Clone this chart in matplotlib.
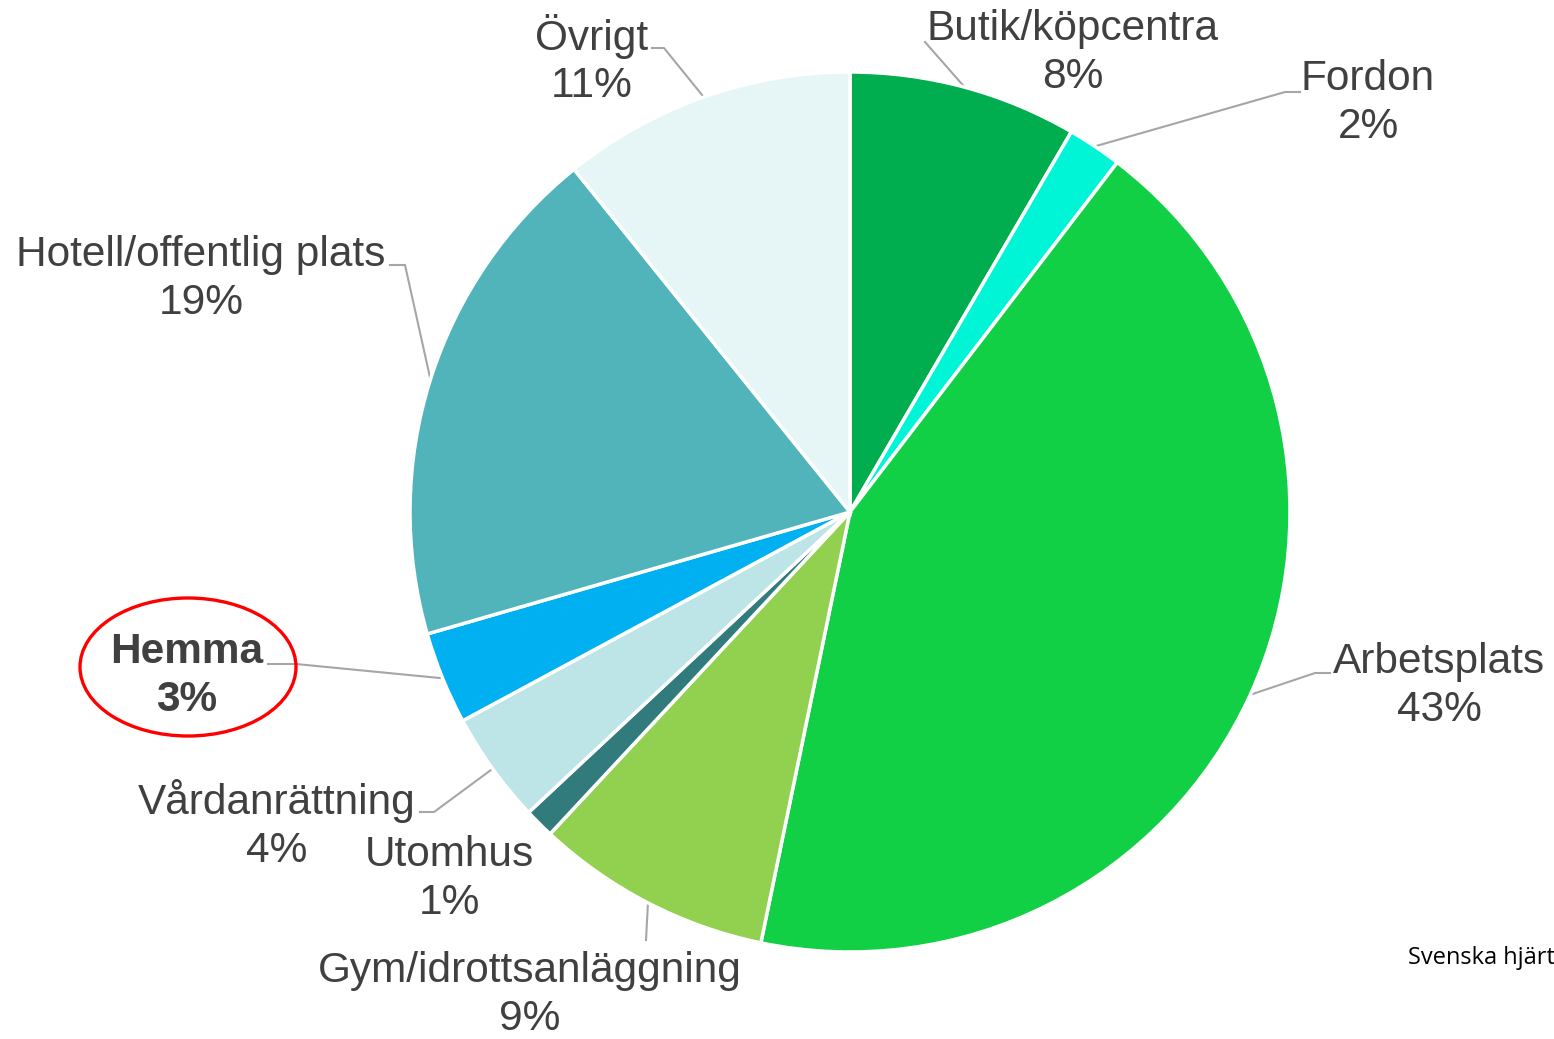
import numpy as np
import matplotlib
matplotlib.use("Agg")
import matplotlib.pyplot as plt
from matplotlib.patches import Ellipse

plt.rcParams["font.family"] = ["Liberation Sans", "DejaVu Sans"]

# ---- data (share of cases per place, %) ----
categories = ["Butik/köpcentra", "Fordon", "Arbetsplats", "Gym/idrottsanläggning",
              "Utomhus", "Vårdanrättning", "Hemma", "Hotell/offentlig plats", "Övrigt"]
values = [8.4, 2.0, 42.9, 8.7, 1.1, 4.1, 3.4, 18.7, 10.8]
colors = ["#00AD4F", "#00F5D6", "#12D045", "#92D050", "#317B7C",
          "#BDE4E6", "#00B0F0", "#52B4BB", "#E6F5F5"]

W, H = 1554, 1039
def Y(py):
    return H - py

# label centre and leader elbow/stub (pixel coords of the layout)
label_pos = {
    "Butik/köpcentra": (1073, 53),
    "Fordon": (1368, 103),
    "Arbetsplats": (1439, 686),
    "Gym/idrottsanläggning": (530, 995),
    "Utomhus": (449, 879),
    "Vårdanrättning": (277, 825),
    "Hemma": (187, 676),
    "Hotell/offentlig plats": (201, 279),
    "Övrigt": (592, 60),
}
leaders = {   # points from the text side toward the rim
    "Butik/köpcentra": [(925, 42)],
    "Fordon": [(1300, 92), (1285, 92)],
    "Arbetsplats": [(1330, 673), (1315, 673)],
    "Gym/idrottsanläggning": [(646, 940)],
    "Vårdanrättning": [(420, 812), (434, 812)],
    "Hemma": [(268, 664), (296, 664)],
    "Hotell/offentlig plats": [(390, 265), (405, 265)],
    "Övrigt": [(652, 48), (664, 48)],
}

fig = plt.figure(figsize=(W / 100, H / 100), dpi=100)
ax = fig.add_axes([0, 0, 1, 1])

cx, cy, R = 850, 512, 440
wedges, _ = ax.pie(values, colors=colors, startangle=90, counterclock=False,
                   center=(cx, Y(cy)), radius=R, frame=True,
                   wedgeprops=dict(edgecolor="white", linewidth=2.5))
ax.set_xlim(0, W); ax.set_ylim(0, H)
ax.axis("off")

for w, name, v in zip(wedges, categories, values):
    tx, ty = label_pos[name]
    bold = name == "Hemma"
    ax.text(tx, Y(ty), f"{name}\n{round(v)}%", ha="center", va="center",
            fontsize=30.5, color="#404040", linespacing=1.25,
            fontweight="bold" if bold else "normal")
    if name in leaders:
        mid = np.deg2rad((w.theta1 + w.theta2) / 2)
        rim = (cx + R * np.cos(mid), Y(cy) + R * np.sin(mid))
        pts = [(px, Y(py)) for px, py in leaders[name]] + [rim]
        xs, ys = zip(*pts)
        ax.plot(xs, ys, color="#A6A6A6", lw=1.5, zorder=0.5)

ax.add_patch(Ellipse((188, Y(667)), 216, 138, fill=False, edgecolor="#FF0000", lw=2.4))

# source note, only partly visible in the original
ax.text(1408, Y(958), "Svenska hjärt", ha="left", va="center",
        fontsize=17, color="black", family=["Open Sans", "DejaVu Sans"])

fig.savefig("out.png", dpi=100)
